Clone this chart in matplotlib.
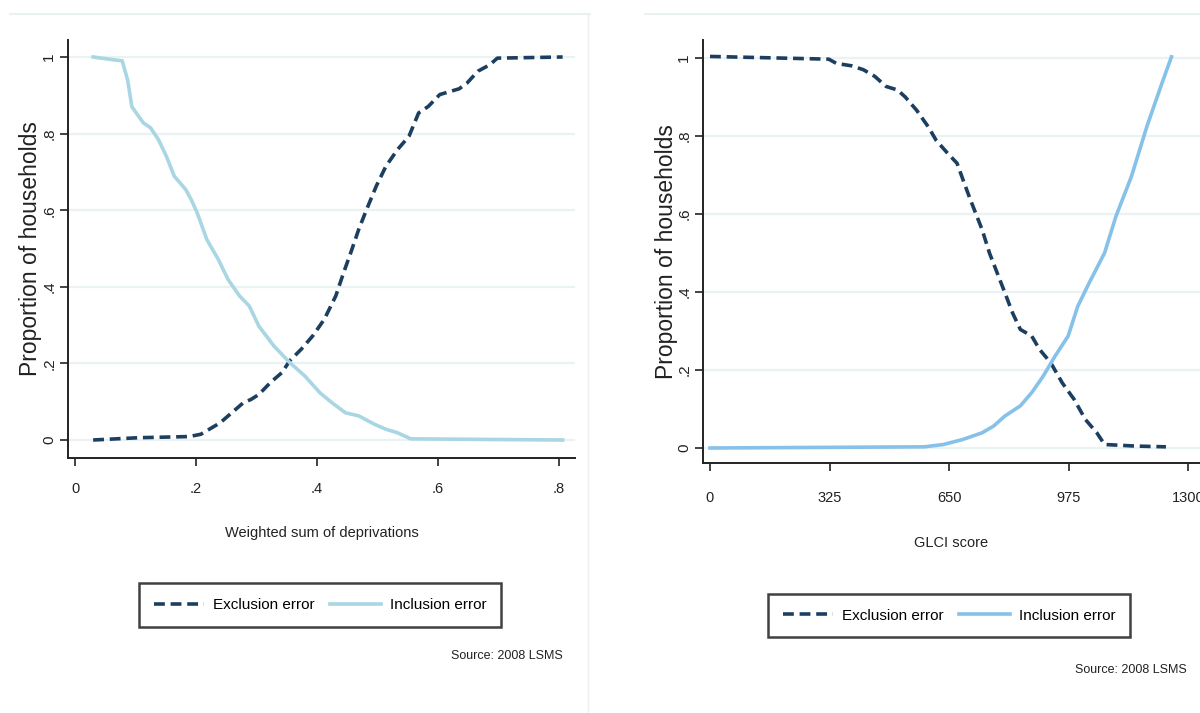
import matplotlib

matplotlib.use("Agg")
import matplotlib.pyplot as plt
from matplotlib.lines import Line2D

# ---- data ------------------------------------------------------------------
# left panel: weighted sum of deprivations
wsd_incl_x = [0.030, 0.062, 0.078, 0.087, 0.094, 0.113, 0.125, 0.138, 0.151, 0.164,
              0.183, 0.192, 0.202, 0.218, 0.237, 0.253, 0.272, 0.288, 0.304, 0.329,
              0.355, 0.380, 0.405, 0.425, 0.447, 0.469, 0.495, 0.514, 0.533, 0.555, 0.806]
wsd_incl_y = [1.000, 0.993, 0.990, 0.940, 0.870, 0.828, 0.815, 0.784, 0.741, 0.689,
              0.654, 0.628, 0.593, 0.523, 0.471, 0.419, 0.376, 0.350, 0.297, 0.245,
              0.202, 0.167, 0.123, 0.097, 0.071, 0.063, 0.041, 0.028, 0.019, 0.003, 0.000]
wsd_excl_x = [0.030, 0.106, 0.189, 0.208, 0.240, 0.259, 0.278, 0.291, 0.304, 0.323,
              0.342, 0.355, 0.374, 0.393, 0.412, 0.431, 0.444, 0.456, 0.469, 0.482,
              0.498, 0.514, 0.533, 0.552, 0.568, 0.584, 0.603, 0.635, 0.648, 0.666,
              0.686, 0.698, 0.806]
wsd_excl_y = [0.000, 0.006, 0.009, 0.015, 0.045, 0.071, 0.097, 0.106, 0.119, 0.150,
              0.176, 0.207, 0.237, 0.272, 0.315, 0.376, 0.437, 0.490, 0.550, 0.602,
              0.663, 0.715, 0.758, 0.793, 0.854, 0.871, 0.902, 0.917, 0.932, 0.963,
              0.980, 0.997, 1.000]

# right panel: GLCI score
glci_excl_x = [0, 323, 344, 385, 417, 448, 479, 510, 531, 562, 594, 615, 646, 672,
               688, 708, 740, 760, 781, 802, 823, 844, 875, 896, 927, 958, 990, 1021,
               1052, 1073, 1156, 1240]
glci_excl_y = [1.004, 0.997, 0.986, 0.980, 0.970, 0.953, 0.927, 0.918, 0.900, 0.866,
               0.823, 0.789, 0.756, 0.730, 0.688, 0.637, 0.560, 0.500, 0.449, 0.398,
               0.346, 0.304, 0.287, 0.253, 0.218, 0.167, 0.125, 0.073, 0.039, 0.009,
               0.005, 0.003]
glci_incl_x = [0, 583, 635, 688, 740, 771, 802, 844, 875, 906, 938, 974, 1000, 1031,
               1073, 1104, 1146, 1188, 1229, 1255]
glci_incl_y = [0.000, 0.003, 0.009, 0.022, 0.039, 0.056, 0.082, 0.108, 0.142, 0.184,
               0.235, 0.287, 0.363, 0.423, 0.500, 0.594, 0.696, 0.824, 0.935, 1.003]

y_ticks = [0, 0.2, 0.4, 0.6, 0.8, 1.0]
y_tick_labels = ["0", ".2", ".4", ".6", ".8", "1"]
wsd_ticks = [0, 0.2, 0.4, 0.6, 0.8]
wsd_tick_labels = ["0", ".2", ".4", ".6", ".8"]
glci_ticks = [0, 325, 650, 975, 1300]
glci_tick_labels = ["0", "325", "650", "975", "1300"]

NAVY = "#1d3f5f"
LIGHT_LEFT = "#a9d6e3"
LIGHT_RIGHT = "#86c1e9"
GRID = "#eaf2f3"
INK = "#222222"
FONT = "Liberation Sans"

W, H = 1200, 713


def fx(px):
    return px / W


def fy(py):
    return 1 - py / H


def style_axes(ax, xticks, xlabels, xlim, ylim, xpad, xlabel, xlabel_y, ylabel_x):
    ax.set_xlim(*xlim)
    ax.set_ylim(*ylim)
    for side in ("top", "right"):
        ax.spines[side].set_visible(False)
    for side in ("left", "bottom"):
        ax.spines[side].set_color(INK)
        ax.spines[side].set_linewidth(1.4)
    ax.set_yticks(y_ticks)
    ax.set_yticklabels(y_tick_labels, rotation=90, va="center",
                       fontsize=11, family=FONT, color=INK)
    ax.set_xticks(xticks)
    ax.set_xticklabels(xlabels, fontsize=10.5, family=FONT, color=INK)
    ax.tick_params(axis="y", length=6, width=1.2, pad=2.5, color=INK)
    ax.tick_params(axis="x", length=6, width=1.2, pad=xpad, color=INK)
    ax.grid(axis="y", color=GRID, linewidth=1.6)
    ax.set_axisbelow(True)
    ax.set_ylabel("Proportion of households", fontsize=16.5, family=FONT, color=INK)
    ax.yaxis.set_label_coords(ylabel_x, 0.5)
    ax.set_xlabel(xlabel, fontsize=10.5, family=FONT, color=INK)
    ax.xaxis.set_label_coords(0.5, xlabel_y)


fig = plt.figure(figsize=(W / 100, H / 100), dpi=100)
fig.patch.set_facecolor("white")

# ---- left panel ------------------------------------------------------------
ax1 = fig.add_axes([fx(68), fy(458), fx(575 - 68), (458 - 40) / H])
ax1.plot(wsd_excl_x, wsd_excl_y, color=NAVY, lw=2.6, linestyle=(0, (3, 1.6)),
         label="Exclusion error")
ax1.plot(wsd_incl_x, wsd_incl_y, color=LIGHT_LEFT, lw=2.6, label="Inclusion error")
style_axes(ax1, wsd_ticks, wsd_tick_labels,
           xlim=(-7 / 605, 500 / 605), ylim=(-18 / 383, 1 + 17 / 383),
           xpad=11, xlabel="Weighted sum of deprivations",
           xlabel_y=-(526 - 458) / 418, ylabel_x=-(68 - 42) / 507)

# ---- right panel -----------------------------------------------------------
ax2 = fig.add_axes([fx(703), fy(463), fx(1200 - 703), (463 - 40) / H])
ax2.plot(glci_excl_x, glci_excl_y, color=NAVY, lw=2.6, linestyle=(0, (3, 1.6)),
         label="Exclusion error")
ax2.plot(glci_incl_x, glci_incl_y, color=LIGHT_RIGHT, lw=2.6, label="Inclusion error")
style_axes(ax2, glci_ticks, glci_tick_labels,
           xlim=(-7 / 0.3677, 490 / 0.3677), ylim=(-15 / 390, 1 + 18 / 390),
           xpad=14, xlabel="GLCI score",
           xlabel_y=-(536 - 463) / 423, ylabel_x=-(703 - 678) / 497)

# ---- legends and source notes ---------------------------------------------
for ax, (x0, y0, x1, y1), src_xy in (
    (ax1, (144, 583, 496, 627), (563, 656)),
    (ax2, (776, 593, 1122, 638), (1187, 670)),
):
    leg = ax.legend(loc="center", ncol=2, frameon=True, fancybox=False,
                    bbox_to_anchor=(fx((x0 + x1) / 2), fy((y0 + y1) / 2)),
                    bbox_transform=fig.transFigure,
                    prop={"family": FONT, "size": 11},
                    handlelength=3.3, handletextpad=0.6, columnspacing=1.0,
                    borderpad=0.95, borderaxespad=0)
    leg.get_frame().set_edgecolor("#111111")
    leg.get_frame().set_linewidth(1.8)
    fig.text(fx(src_xy[0]), fy(src_xy[1]), "Source: 2008 LSMS", ha="right",
             va="center", fontsize=9, family=FONT, color=INK)

# faint panel borders from the stitched graphs
fig.add_artist(Line2D([fx(10), fx(590)], [fy(14), fy(14)], color="#e9f1f1", lw=1.5))
fig.add_artist(Line2D([fx(645), fx(1200)], [fy(14), fy(14)], color="#e9f1f1", lw=1.5))
fig.add_artist(Line2D([fx(588), fx(588)], [fy(14), fy(713)], color="#efefef", lw=1.0))

fig.savefig("out.png", dpi=100, facecolor="white")
